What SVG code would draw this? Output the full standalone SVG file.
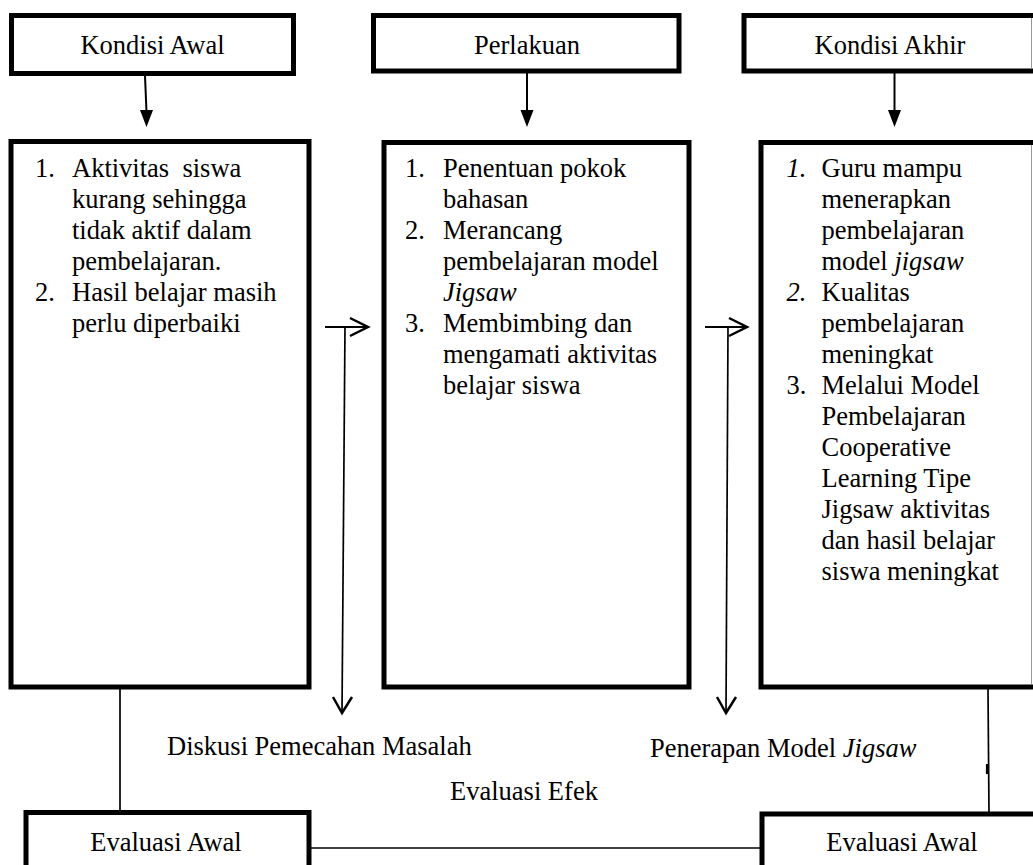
<svg xmlns="http://www.w3.org/2000/svg" width="1033" height="865" viewBox="0 0 1033 865">
<defs>
<style>
.box{fill:#fff;stroke:#000;stroke-width:5}
.t{font-family:"Liberation Serif","Times New Roman",serif;font-size:26.5px;fill:#000}
.c{text-anchor:middle}
.i{font-style:italic}
.ln{fill:none;stroke:#000;stroke-width:1.7}
.ar{fill:none;stroke:#000;stroke-width:2}
.ch{fill:none;stroke:#000;stroke-width:2.5;stroke-linejoin:miter}
.edge{stroke:#999;stroke-width:1}
</style>
</defs>
<rect width="1033" height="865" fill="#fff"/>

<g id="connectors">
<line class="ar" x1="145" y1="76" x2="146.5" y2="112"/>
<polygon points="140,110 153,110 146.5,127" fill="#000"/>
<line class="ar" x1="527" y1="73" x2="527" y2="112"/>
<polygon points="520.5,110 533.5,110 527,127" fill="#000"/>
<line class="ar" x1="894.5" y1="73" x2="894.5" y2="112"/>
<polygon points="888,110 901,110 894.5,127" fill="#000"/>

<line class="ar" x1="325" y1="327" x2="367" y2="327"/>
<polyline class="ch" points="350,318 368,327 350,336"/>
<line class="ln" x1="345" y1="327" x2="342" y2="712"/>
<polyline class="ch" points="333,697 342,713 352,697"/>

<line class="ar" x1="705" y1="327" x2="746" y2="327"/>
<polyline class="ch" points="729,318 747,327 729,336"/>
<line class="ln" x1="728" y1="327" x2="726" y2="712"/>
<polyline class="ch" points="717,697 726,713 736,697"/>

<line class="ln" x1="120" y1="689" x2="120" y2="811"/>
<line class="ln" x1="311" y1="848" x2="760" y2="848"/>
<line class="ln" x1="988" y1="689" x2="989" y2="813"/>
<line x1="987" y1="764" x2="987" y2="774" stroke="#000" stroke-width="2.2"/>
</g>

<g id="kondisi-awal">
<rect class="box" x="11.5" y="15.5" width="282" height="58"/>
<text class="t c" x="152.5" y="54">Kondisi Awal</text>
</g>

<g id="perlakuan">
<rect class="box" x="373.5" y="15.5" width="305.5" height="55.5"/>
<text class="t c" x="527" y="54">Perlakuan</text>
</g>

<g id="kondisi-akhir">
<rect class="box" x="744" y="15.5" width="300" height="55.5"/>
<line class="edge" x1="1031.5" y1="18" x2="1031.5" y2="69"/>
<text class="t c" x="890" y="54">Kondisi Akhir</text>
</g>

<g id="box-awal">
<rect class="box" x="11" y="141.5" width="298" height="545.5"/>
<text class="t" x="35" y="177">1.</text><text class="t" x="72" y="177" xml:space="preserve">Aktivitas  siswa</text>
<text class="t" x="72" y="208">kurang sehingga</text>
<text class="t" x="72" y="239">tidak aktif dalam</text>
<text class="t" x="72" y="270">pembelajaran.</text>
<text class="t" x="35" y="301">2.</text><text class="t" x="72" y="301">Hasil belajar masih</text>
<text class="t" x="72" y="332">perlu diperbaiki</text>
</g>

<g id="box-perlakuan">
<rect class="box" x="384" y="142.5" width="305" height="544.5"/>
<text class="t" x="405" y="177">1.</text><text class="t" x="443" y="177">Penentuan pokok</text>
<text class="t" x="443" y="208">bahasan</text>
<text class="t" x="405" y="239">2.</text><text class="t" x="443" y="239">Merancang</text>
<text class="t" x="443" y="270">pembelajaran model</text>
<text class="t i" x="443" y="301">Jigsaw</text>
<text class="t" x="405" y="332">3.</text><text class="t" x="443" y="332">Membimbing dan</text>
<text class="t" x="443" y="363">mengamati aktivitas</text>
<text class="t" x="443" y="394">belajar siswa</text>
</g>

<g id="box-akhir">
<rect class="box" x="761" y="142.5" width="285" height="544.5"/>
<line class="edge" x1="1031.5" y1="145" x2="1031.5" y2="684"/>
<text class="t i" x="786.5" y="177">1.</text><text class="t" x="821.5" y="177">Guru mampu</text>
<text class="t" x="821.5" y="208">menerapkan</text>
<text class="t" x="821.5" y="239">pembelajaran</text>
<text class="t" x="821.5" y="270">model <tspan class="i">jigsaw</tspan></text>
<text class="t i" x="786.5" y="301">2.</text><text class="t" x="821.5" y="301">Kualitas</text>
<text class="t" x="821.5" y="332">pembelajaran</text>
<text class="t" x="821.5" y="363">meningkat</text>
<text class="t" x="786.5" y="394">3.</text><text class="t" x="821.5" y="394">Melalui Model</text>
<text class="t" x="821.5" y="425">Pembelajaran</text>
<text class="t" x="821.5" y="456">Cooperative</text>
<text class="t" x="821.5" y="487">Learning Tipe</text>
<text class="t" x="821.5" y="518">Jigsaw aktivitas</text>
<text class="t" x="821.5" y="549">dan hasil belajar</text>
<text class="t" x="821.5" y="580">siswa meningkat</text>
</g>

<g id="labels">
<text class="t" x="167" y="755">Diskusi Pemecahan Masalah</text>
<text class="t" x="450" y="800">Evaluasi Efek</text>
<text class="t" x="650" y="757">Penerapan Model <tspan class="i">Jigsaw</tspan></text>
</g>

<g id="evaluasi-awal-1">
<rect class="box" x="26" y="812.5" width="283" height="100"/>
<text class="t c" x="166" y="851">Evaluasi Awal</text>
</g>

<g id="evaluasi-awal-2">
<rect class="box" x="762" y="814" width="300" height="100"/>
<text class="t c" x="902" y="851">Evaluasi Awal</text>
</g>
</svg>
